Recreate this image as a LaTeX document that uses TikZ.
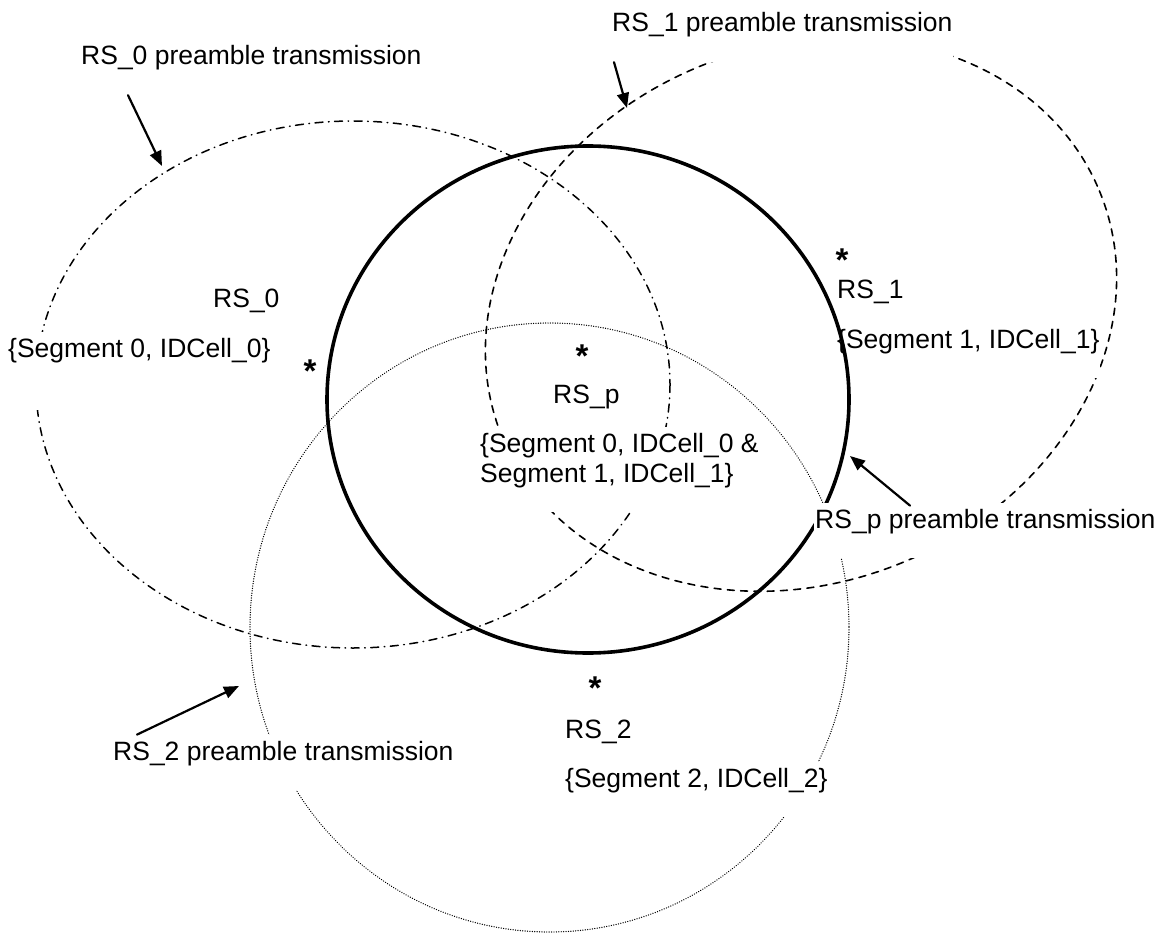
\documentclass[tikz,border=0pt]{standalone}
\usepackage{fontspec}
\setmainfont{Liberation Sans}
\usetikzlibrary{arrows.meta}
\tikzset{
	lbl/.style={fill=white, inner xsep=1pt, inner ysep=6pt, text depth=24pt, anchor=base west},
	tag/.style={inner sep=0pt, anchor=base west},
	star/.style={inner sep=0pt, anchor=base, font=\fontsize{33}{36}\selectfont\bfseries},
	zonep/.style={line width=3.6pt},
	zone0/.style={line width=1.5pt, dash pattern=on 8pt off 5.5pt on 0.6pt off 5.5pt},
	zone1/.style={line width=1.6pt, dash pattern=on 7pt off 6.3pt},
	zone2/.style={line width=1.4pt, dash pattern=on 0.01pt off 2.4pt},
}
\begin{document}
\begin{tikzpicture}[x=1pt, y=-1pt, font=\fontsize{26.5}{30}\selectfont, line join=round, line cap=round, >={Triangle[length=15pt,width=12pt]}]
	\useasboundingbox (0,0) rectangle (1158,933);
	% coverage of the three relay stations
	\draw[zone0] (353,384.5) ellipse [x radius=317, y radius=263.5];
	\draw[zone1, rotate around={22.5:(801,314.5)}] (801,314.5) ellipse [x radius=323, y radius=268];
	\draw[zone2] (549.5,627.5) ellipse [x radius=299.5, y radius=304.5];
	% text boxes hide the lines below them
	\node[lbl] (pre0) at (80,65) {RS\_0 preamble transmission};
	\node[lbl] (pre1) at (611,32) {RS\_1 preamble transmission\hspace{14pt}};
	\node[lbl] (pre2) at (112,760) {RS\_2 preamble transmission};
	\node[lbl, text depth=47pt] (seg0) at (7,357) {\{Segment 0, IDCell\_0\}};
	\node[lbl] (seg1) at (836,348) {\{Segment 1, IDCell\_1\}\hspace{8pt}};
	\node[lbl] (seg2) at (564,787) {\{Segment 2, IDCell\_2\}};
	\node[lbl, anchor=north west, align=left] (segp) at (479,427) {\{Segment 0, IDCell\_0 \&\\Segment 1, IDCell\_1\}};
	% RS_p coverage
	\draw[zonep] (588,399.5) ellipse [x radius=261, y radius=253.5];
	\node[lbl] (prep) at (814,528) {RS\_p preamble transmission};
	% arrows
	\coordinate (tip0) at (162,166);
	\coordinate (tip1) at (627,108);
	\coordinate (tipp) at (850,456);
	\coordinate (tip2) at (239,686);
	\draw[->, line width=2.2pt] ([xshift=48pt]pre0.south west) -- (tip0);
	\draw[->, line width=2.2pt] ([xshift=3pt]pre1.south west) -- (tip1);
	\draw[->, line width=2.2pt] ([xshift=96pt, yshift=-3pt]prep.north west) -- (tipp);
	\draw[->, line width=2.2pt] ([xshift=25pt]pre2.north west) -- (tip2);
	% stations
	\node[star] (st0) at (310,382) {*};
	\node[star] (stp) at (582,367) {*};
	\node[star] (st1) at (842,271) {*};
	\node[star] (st2) at (595,699) {*};
	\node[tag] (lab0) at (213,307) {RS\_0};
	\node[tag] (labp) at (553,403) {RS\_p};
	\node[tag] (lab1) at (837,298) {RS\_1};
	\node[tag] (lab2) at (565,738) {RS\_2};
\end{tikzpicture}
\end{document}
